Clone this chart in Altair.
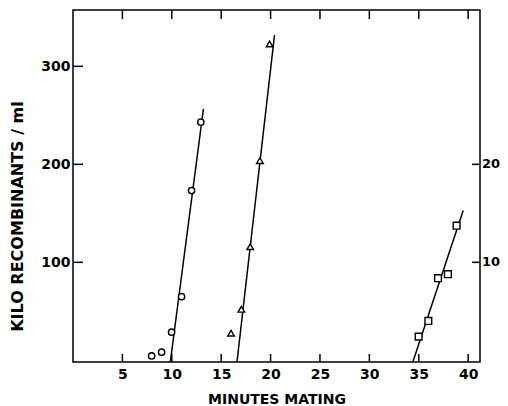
import altair as alt
import pandas as pd

# ---- data ----
circle_x = [7.96, 8.97, 9.98, 10.99, 12.0, 12.94]
circle_y = [4.5, 8.3, 28.7, 65.0, 173.2, 243.0]
circle_fit_x = [9.85, 13.2]
circle_fit_y = [-1.7, 256.5]

tri_x = [16.0, 17.04, 17.94, 18.92, 19.9]
tri_y = [27.7, 52.1, 116.0, 203.8, 322.9]
tri_fit_x = [16.6, 20.4]
tri_fit_y = [-1.7, 332.0]

sq_x = [34.99, 35.97, 36.95, 37.95, 38.83]
sq_y = [2.42, 4.02, 8.38, 8.79, 13.74]          # right-hand axis units
sq_fit_x = [34.4, 39.5]
sq_fit_y = [-0.17, 15.28]

x_ticks = [5, 10, 15, 20, 25, 30, 35, 40]
left_ticks = [100, 200, 300]
right_ticks = [10, 20]
right_factor = 10        # right axis = left axis / 10

x_domain = [0, 41.2]
left_domain = [-1.7, 357.5]

W, H = 407, 352
FONT = "DejaVu Sans"

circles = pd.DataFrame({"x": circle_x, "y": circle_y})
circle_fit = pd.DataFrame({"x": circle_fit_x, "y": circle_fit_y})
tris = pd.DataFrame({"x": tri_x, "y": tri_y})
tri_fit = pd.DataFrame({"x": tri_fit_x, "y": tri_fit_y})
squares = pd.DataFrame({"x": sq_x, "yr": sq_y})
sq_fit = pd.DataFrame({"x": sq_fit_x, "yr": sq_fit_y})
xt = pd.DataFrame({"x": [float(v) for v in x_ticks]})
ylt = pd.DataFrame({"y": [float(v) for v in left_ticks]})
yrt = pd.DataFrame({"yr": [float(v) for v in right_ticks]})

xs = alt.Scale(domain=x_domain, nice=False, zero=False)
ys = alt.Scale(domain=left_domain, nice=False, zero=False)

common = dict(grid=False, domain=False, ticks=False, labelFont=FONT,
              labelFontWeight="bold", labelColor="black",
              titleFont=FONT, titleColor="black", titleFontWeight="bold")

x_lab = alt.Axis(orient="bottom", values=x_ticks, labelPadding=5, labelFontSize=14,
                 title="MINUTES MATING", titleFontSize=14, titleY=41,
                 titleBaseline="alphabetic", **common)
yl_lab = alt.Axis(orient="left", values=left_ticks, labelPadding=3, labelFontSize=14,
                  title="KILO RECOMBINANTS / ml", titleFontSize=16, titleX=-51,
                  titleY=206, titleBaseline="alphabetic", **common)

line_kw = dict(color="black", strokeWidth=1.5)
pt_kw = dict(filled=True, fill="white", stroke="black", strokeWidth=1.4, opacity=1)
to_left = f"datum.yr * {right_factor}"

X = alt.X("x:Q", scale=xs, axis=x_lab)
Y = alt.Y("y:Q", scale=ys, axis=yl_lab)

l1 = alt.Chart(circle_fit).mark_line(**line_kw).encode(x=X, y=Y)
l2 = alt.Chart(tri_fit).mark_line(**line_kw).encode(x=X, y=Y)
l3 = alt.Chart(sq_fit).transform_calculate(y=to_left).mark_line(**line_kw).encode(x=X, y=Y)

# inward tick marks on the frame
t_bottom = alt.Chart(xt).mark_rule(color="black", strokeWidth=1.5).encode(
    x=X, y=alt.value(H - 8), y2=alt.value(H))
t_top = alt.Chart(xt).mark_rule(color="black", strokeWidth=1.5).encode(
    x=X, y=alt.value(0), y2=alt.value(9))
t_left = alt.Chart(ylt).mark_rule(color="black", strokeWidth=1.5).encode(
    y=Y, x=alt.value(0), x2=alt.value(10))
t_right = alt.Chart(yrt).transform_calculate(y=to_left).mark_rule(
    color="black", strokeWidth=1.5).encode(y=Y, x=alt.value(W - 8), x2=alt.value(W))
# right-hand scale labels
r_lab = alt.Chart(yrt).transform_calculate(y=to_left).mark_text(
    align="left", baseline="middle", font=FONT, fontSize=13, fontWeight="bold",
    color="black").encode(y=Y, x=alt.value(W + 2), text="yr:Q")

p_sq = alt.Chart(squares).transform_calculate(y=to_left).mark_point(
    shape="square", size=46, **pt_kw).encode(x=X, y=Y)
p_c = alt.Chart(circles).mark_point(shape="circle", size=40, **pt_kw).encode(x=X, y=Y)
p_t = alt.Chart(tris).mark_point(shape="triangle-up", size=44, **pt_kw).encode(x=X, y=Y)

chart = alt.layer(l1, l2, l3, t_bottom, t_top, t_left, t_right, r_lab, p_sq, p_c, p_t
                  ).properties(
    width=W, height=H, autosize=alt.AutoSizeParams(type="none"),
    padding={"left": 65, "top": 2, "right": 20, "bottom": 44},
    background="white",
).configure_view(stroke="black", strokeWidth=1.5)

chart.save("out.html", embed_options={"renderer": "svg", "actions": False})
